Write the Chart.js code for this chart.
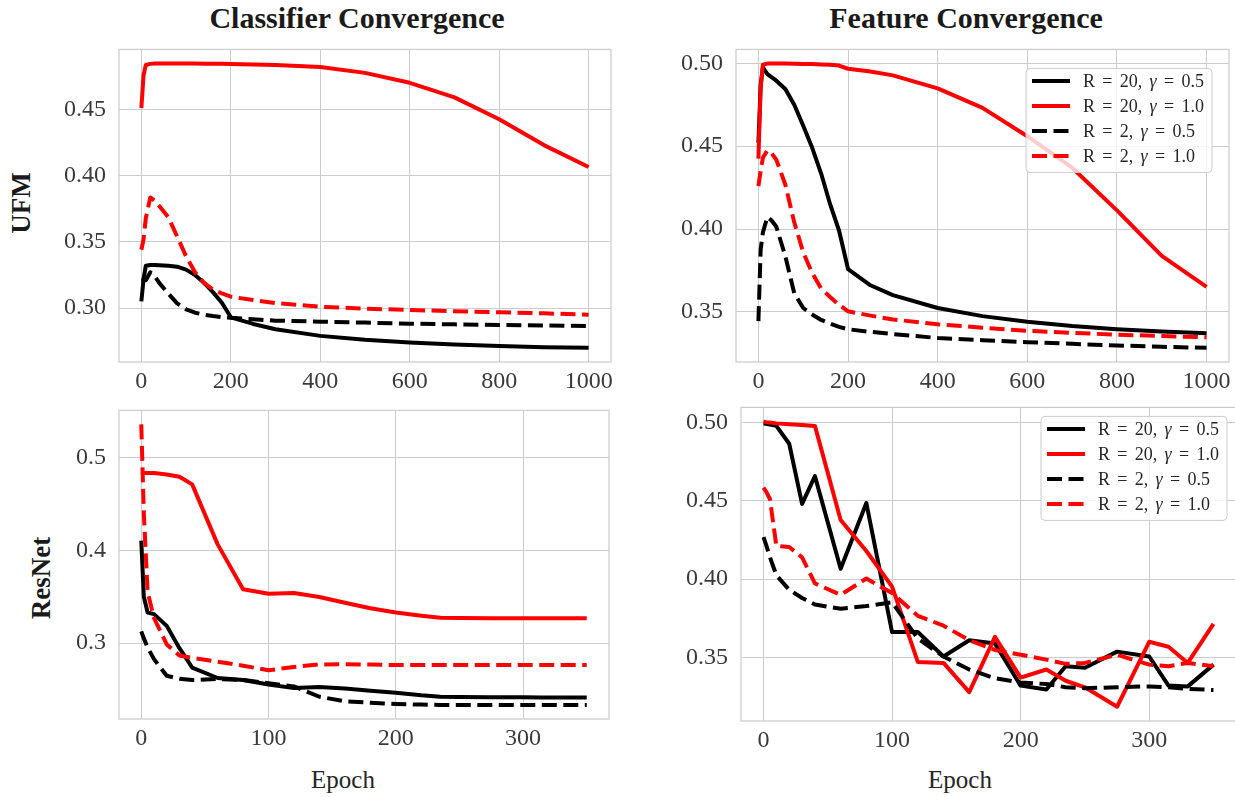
<!DOCTYPE html>
<html>
<head>
<meta charset="utf-8">
<script src="https://cdn.jsdelivr.net/npm/chart.js@4.4.1/dist/chart.umd.min.js"></script>
<style>
  body { margin: 0; width: 1235px; height: 797px; overflow: hidden; background: #fff; position: relative; font-family: "Liberation Serif", serif; }
  canvas { position: absolute; }
  .lbl { position: absolute; white-space: nowrap; line-height: 1; color: #1a1a1a; }
  .title { font-weight: bold; font-size: 30px; transform: translateX(-50%); }
  .row { font-weight: bold; font-size: 27px; transform: translate(-50%, -50%) rotate(-90deg); }
  .xlab { font-size: 25px; transform: translateX(-50%); color: #262626; }
</style>
</head>
<body>
<div class="lbl title" style="left:357px; top:3px;">Classifier Convergence</div>
<div class="lbl title" style="left:966px; top:3px;">Feature Convergence</div>
<div class="lbl row" style="left:21px; top:203px;">UFM</div>
<div class="lbl row" style="left:41px; top:578px;">ResNet</div>
<div class="lbl xlab" style="left:343px; top:767px;">Epoch</div>
<div class="lbl xlab" style="left:960px; top:767px;">Epoch</div>

<canvas id="ufmCls"></canvas>
<canvas id="ufmFeat"></canvas>
<canvas id="resCls"></canvas>
<canvas id="resFeat"></canvas>

<script>
// ---- data ----
const seriesLabels = ["R = 20, γ = 0.5", "R = 20, γ = 1.0", "R = 2, γ = 0.5", "R = 2, γ = 1.0"];

const ufmEpochs = [0, 5, 10, 20, 30, 40, 60, 80, 100, 120, 140, 160, 180, 200, 250, 300, 400, 500, 600, 700, 800, 900, 1000];
const resnetEpochs = [0, 2, 5, 10, 20, 30, 40, 60, 80, 100, 120, 140, 160, 180, 200, 220, 235, 250, 275, 300, 315, 330, 350];

const ufmXTicks = [0, 200, 400, 600, 800, 1000];
const resnetXTicks = [0, 100, 200, 300];
const ufmClsYTicks = [0.30, 0.35, 0.40, 0.45];
const ufmFeatYTicks = [0.35, 0.40, 0.45, 0.50];
const resClsYTicks = [0.3, 0.4, 0.5];
const resFeatYTicks = [0.35, 0.40, 0.45, 0.50];

// UFM, classifier convergence
const ufmClsR20g05 = [0.305, 0.322, 0.332, 0.3325, 0.3325, 0.3323, 0.332, 0.3312, 0.329, 0.325, 0.319, 0.312, 0.304, 0.293, 0.288, 0.284, 0.279, 0.276, 0.274, 0.2725, 0.2713, 0.2705, 0.270];
const ufmClsR20g10 = [0.451, 0.476, 0.4835, 0.4843, 0.4845, 0.4845, 0.4845, 0.4845, 0.4845, 0.4845, 0.4844, 0.4844, 0.4843, 0.4842, 0.4839, 0.4834, 0.482, 0.4775, 0.470, 0.459, 0.4425, 0.423, 0.4065];
const ufmClsR2g05 = [0.321, 0.321, 0.321, 0.327, 0.324, 0.319, 0.311, 0.3035, 0.299, 0.2965, 0.295, 0.294, 0.2932, 0.2926, 0.2915, 0.2905, 0.2897, 0.289, 0.2882, 0.2877, 0.2872, 0.2868, 0.2865];
const ufmClsR2g10 = [0.344, 0.352, 0.368, 0.3835, 0.381, 0.377, 0.3687, 0.354, 0.339, 0.327, 0.319, 0.314, 0.311, 0.3086, 0.306, 0.3037, 0.301, 0.2996, 0.2985, 0.2976, 0.2968, 0.296, 0.295];

// UFM, feature convergence
const ufmFeatR20g05 = [0.452, 0.487, 0.4975, 0.4935, 0.4915, 0.4895, 0.4845, 0.475, 0.4623, 0.449, 0.4335, 0.415, 0.399, 0.3759, 0.3661, 0.3602, 0.3524, 0.3475, 0.3441, 0.3415, 0.3396, 0.3382, 0.3372];
const ufmFeatR20g10 = [0.4425, 0.485, 0.4992, 0.4998, 0.4998, 0.4998, 0.4998, 0.4997, 0.4996, 0.4995, 0.4993, 0.4991, 0.4986, 0.4967, 0.495, 0.4927, 0.4849, 0.4731, 0.456, 0.437, 0.4113, 0.3838, 0.3651];
const ufmFeatR2g05 = [0.3445, 0.3876, 0.398, 0.4073, 0.405, 0.4014, 0.3837, 0.3612, 0.3524, 0.3485, 0.3452, 0.343, 0.341, 0.3396, 0.338, 0.3367, 0.3343, 0.333, 0.3318, 0.3308, 0.3298, 0.329, 0.3284];
const ufmFeatR2g10 = [0.4259, 0.435, 0.443, 0.4475, 0.4455, 0.4418, 0.4269, 0.404, 0.386, 0.3735, 0.3641, 0.359, 0.3543, 0.3504, 0.3478, 0.3455, 0.3426, 0.3405, 0.3386, 0.3374, 0.3363, 0.3355, 0.3347];

// ResNet, classifier convergence
const resClsR20g05 = [0.4106, 0.35, 0.333, 0.3312, 0.3185, 0.2944, 0.2734, 0.2622, 0.2601, 0.2552, 0.2513, 0.2524, 0.2508, 0.2485, 0.2464, 0.2435, 0.2419, 0.2417, 0.2415, 0.2414, 0.2413, 0.2412, 0.2412];
const resClsR20g10 = [0.485, 0.4835, 0.4835, 0.4835, 0.482, 0.4795, 0.4713, 0.4065, 0.3581, 0.3532, 0.3539, 0.3497, 0.3435, 0.3375, 0.3329, 0.3295, 0.3273, 0.327, 0.3268, 0.3266, 0.3266, 0.3266, 0.3266];
const resClsR2g05 = [0.3126, 0.305, 0.295, 0.2826, 0.2646, 0.2615, 0.2601, 0.2611, 0.2601, 0.2566, 0.2531, 0.242, 0.237, 0.2355, 0.2342, 0.2335, 0.2331, 0.2331, 0.2331, 0.2331, 0.2331, 0.2331, 0.2331];
const resClsR2g10 = [0.536, 0.44, 0.355, 0.327, 0.2985, 0.2865, 0.2839, 0.2797, 0.2755, 0.2706, 0.2741, 0.2769, 0.277, 0.2768, 0.2762, 0.2762, 0.2762, 0.2762, 0.2762, 0.2762, 0.2762, 0.2762, 0.2762];

// ResNet, feature convergence
const resFeatR20g05 = [0.4994, 0.4993, 0.4988, 0.4979, 0.4865, 0.4481, 0.4658, 0.4066, 0.4486, 0.3662, 0.3662, 0.3506, 0.361, 0.3589, 0.332, 0.3295, 0.3444, 0.3434, 0.3537, 0.3506, 0.332, 0.3315, 0.3454];
const resFeatR20g10 = [0.5006, 0.5003, 0.50, 0.4995, 0.499, 0.4985, 0.4979, 0.4378, 0.418, 0.3952, 0.3471, 0.3465, 0.3278, 0.3631, 0.3371, 0.3423, 0.3351, 0.3309, 0.3185, 0.36, 0.3568, 0.3465, 0.3714];
const resFeatR2g05 = [0.4268, 0.422, 0.414, 0.4025, 0.3932, 0.388, 0.3838, 0.3811, 0.3828, 0.3853, 0.362, 0.3506, 0.3423, 0.3367, 0.334, 0.333, 0.331, 0.3303, 0.331, 0.3315, 0.331, 0.3299, 0.3292];
const resFeatR2g10 = [0.4585, 0.456, 0.4512, 0.4212, 0.4205, 0.4139, 0.3973, 0.39, 0.4004, 0.3911, 0.3766, 0.3703, 0.361, 0.3548, 0.3517, 0.3486, 0.3459, 0.3465, 0.3517, 0.3454, 0.3444, 0.3465, 0.3444];

// ---- styling ----
const YW = 100, XH = 50, PT = 20, PR = 30;
const GRID = "#cccccc";
const TICK_FONT = { family: "Liberation Serif", size: 24 };
const seriesStyle = [
  { color: "#000000", dash: [] },
  { color: "#ff0000", dash: [] },
  { color: "#000000", dash: [15, 6.5] },
  { color: "#ff0000", dash: [15, 6.5] }
];

// matplotlib-like 5% margins
function padded(values) {
  const lo = Math.min(...values), hi = Math.max(...values);
  const m = (hi - lo) * 0.05;
  return [lo - m, hi + m];
}

const framePlugin = {
  id: "frame",
  afterDatasetsDraw(chart) {
    const a = chart.chartArea, ctx = chart.ctx;
    ctx.save();
    ctx.strokeStyle = GRID;
    ctx.lineWidth = 1.25;
    ctx.strokeRect(a.left, a.top, a.right - a.left, a.bottom - a.top);
    ctx.restore();
  }
};

const boxLegend = {
  id: "boxLegend",
  afterDraw(chart, args, opts) {
    if (!opts.show) return;
    const ctx = chart.ctx, a = chart.chartArea;
    const x = a.left + opts.dx, y = a.top + opts.dy, w = 186, h = 104, r = 4;
    ctx.save();
    ctx.beginPath();
    ctx.moveTo(x + r, y);
    ctx.arcTo(x + w, y, x + w, y + h, r);
    ctx.arcTo(x + w, y + h, x, y + h, r);
    ctx.arcTo(x, y + h, x, y, r);
    ctx.arcTo(x, y, x + w, y, r);
    ctx.closePath();
    ctx.fillStyle = "rgba(255,255,255,0.8)";
    ctx.fill();
    ctx.strokeStyle = GRID;
    ctx.lineWidth = 1;
    ctx.stroke();

    chart.data.datasets.forEach((ds, i) => {
      const yy = y + 12.5 + i * 25;
      ctx.beginPath();
      ctx.setLineDash(ds.borderDash);
      ctx.lineWidth = ds.borderWidth;
      ctx.strokeStyle = ds.borderColor;
      ctx.moveTo(x + 6, yy);
      ctx.lineTo(x + 44, yy);
      ctx.stroke();
      ctx.setLineDash([]);

      ctx.fillStyle = "#262626";
      ctx.textBaseline = "middle";
      let tx = x + 57;
      const gap = 7.3;
      ds.label.split(" ").forEach(tok => {
        ctx.font = (tok === "γ" ? "italic " : "") + "18px 'Liberation Serif'";
        ctx.fillText(tok, tx, yy + 1);
        tx += ctx.measureText(tok).width + gap;
      });
    });
    ctx.restore();
  }
};

function makeChart(id, area, epochs, series, xTicks, yTicks, dec, legend) {
  const cv = document.getElementById(id);
  const W = area.r - area.l + YW + PR;
  const H = area.b - area.t + PT + XH;
  cv.width = W; cv.height = H;
  cv.style.left = (area.l - YW) + "px";
  cv.style.top = (area.t - PT) + "px";

  const [xmin, xmax] = padded(epochs);
  const [ymin, ymax] = padded(series.flat());

  new Chart(cv, {
    type: "line",
    data: {
      datasets: series.map((vals, i) => ({
        label: seriesLabels[i],
        data: epochs.map((e, j) => ({ x: e, y: vals[j] })),
        borderColor: seriesStyle[i].color,
        borderDash: seriesStyle[i].dash,
        borderWidth: 4,
        borderJoinStyle: "round",
        pointRadius: 0,
        tension: 0,
        fill: false,
        order: 4 - i
      }))
    },
    options: {
      responsive: false,
      animation: false,
      devicePixelRatio: 1,
      events: [],
      layout: { padding: { top: PT, right: PR, left: 0, bottom: 0 } },
      plugins: {
        legend: { display: false },
        tooltip: { enabled: false },
        boxLegend: legend || { show: false }
      },
      scales: {
        x: {
          type: "linear", min: xmin, max: xmax,
          afterBuildTicks: s => { s.ticks = xTicks.map(v => ({ value: v })); },
          afterFit: s => { s.height = XH; },
          ticks: { callback: v => String(v), color: "#3a3a3a", font: TICK_FONT, padding: 5, maxRotation: 0, autoSkip: false },
          grid: { color: GRID, lineWidth: 1, drawTicks: false },
          border: { display: false }
        },
        y: {
          type: "linear", min: ymin, max: ymax,
          afterBuildTicks: s => { s.ticks = yTicks.map(v => ({ value: v })); },
          afterFit: s => { s.width = YW; },
          ticks: { callback: v => v.toFixed(dec), color: "#3a3a3a", font: TICK_FONT, padding: 13, autoSkip: false },
          grid: { color: GRID, lineWidth: 1, drawTicks: false },
          border: { display: false }
        }
      }
    },
    plugins: [framePlugin, boxLegend]
  });
}

makeChart("ufmCls", { l: 119, t: 42, r: 611, b: 362 }, ufmEpochs,
  [ufmClsR20g05, ufmClsR20g10, ufmClsR2g05, ufmClsR2g10], ufmXTicks, ufmClsYTicks, 2, null);
makeChart("ufmFeat", { l: 736, t: 42, r: 1229, b: 362 }, ufmEpochs,
  [ufmFeatR20g05, ufmFeatR20g10, ufmFeatR2g05, ufmFeatR2g10], ufmXTicks, ufmFeatYTicks, 2,
  { show: true, dx: 290, dy: 19 });
makeChart("resCls", { l: 119, t: 403, r: 609, b: 719 }, resnetEpochs,
  [resClsR20g05, resClsR20g10, resClsR2g05, resClsR2g10], resnetXTicks, resClsYTicks, 1, null);
makeChart("resFeat", { l: 741, t: 400, r: 1236, b: 721 }, resnetEpochs,
  [resFeatR20g05, resFeatR20g10, resFeatR2g05, resFeatR2g10], resnetXTicks, resFeatYTicks, 2,
  { show: true, dx: 300, dy: 9 });
</script>
</body>
</html>
